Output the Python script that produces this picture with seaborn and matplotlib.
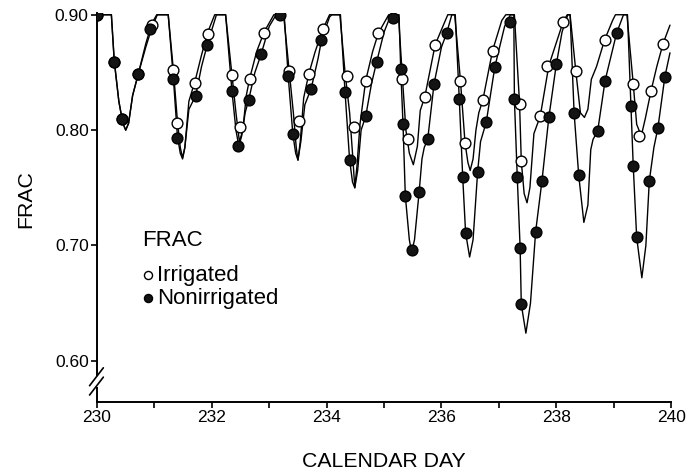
import matplotlib
matplotlib.use("Agg")
import matplotlib.pyplot as plt
import seaborn as sns
import pandas as pd

irr_day = [230.00, 230.30, 230.44, 230.72, 230.95, 231.33, 231.40, 231.71, 231.93,
           232.35, 232.49, 232.66, 232.91, 233.35, 233.51, 233.69, 233.93,
           234.35, 234.48, 234.68, 234.90, 235.32, 235.41, 235.71, 235.89,
           236.33, 236.41, 236.72, 236.89, 237.36, 237.39, 237.71, 237.84,
           238.12, 238.34, 238.84, 239.34, 239.44, 239.65, 239.86]
irr_val = [0.900, 0.859, 0.810, 0.849, 0.891, 0.852, 0.806, 0.841, 0.883,
           0.848, 0.803, 0.844, 0.884, 0.851, 0.808, 0.849, 0.888,
           0.847, 0.803, 0.843, 0.884, 0.844, 0.792, 0.829, 0.874,
           0.843, 0.789, 0.826, 0.869, 0.823, 0.773, 0.812, 0.856,
           0.894, 0.851, 0.878, 0.840, 0.795, 0.834, 0.875]

non_day = [230.00, 230.30, 230.44, 230.72, 230.93, 231.33, 231.40, 231.72, 231.92,
           232.35, 232.45, 232.64, 232.86, 233.19, 233.33, 233.41, 233.73, 233.91,
           234.32, 234.40, 234.68, 234.87, 235.15, 235.29, 235.33, 235.37, 235.48,
           235.61, 235.76, 235.87, 236.09, 236.31, 236.37, 236.42, 236.63, 236.78,
           236.93, 237.20, 237.27, 237.32, 237.37, 237.39, 237.64, 237.75, 237.87,
           238.00, 238.31, 238.39, 238.72, 238.85, 239.05, 239.30, 239.34, 239.40,
           239.62, 239.77, 239.89]
non_val = [0.900, 0.859, 0.810, 0.849, 0.888, 0.844, 0.793, 0.830, 0.874,
           0.834, 0.786, 0.826, 0.866, 0.900, 0.847, 0.797, 0.836, 0.878,
           0.833, 0.774, 0.812, 0.859, 0.897, 0.853, 0.805, 0.743, 0.696,
           0.746, 0.792, 0.840, 0.884, 0.827, 0.759, 0.711, 0.764, 0.807,
           0.855, 0.894, 0.827, 0.759, 0.698, 0.649, 0.712, 0.756, 0.811,
           0.857, 0.815, 0.761, 0.799, 0.843, 0.884, 0.821, 0.769, 0.707,
           0.756, 0.802, 0.846]

# ---- model curves (vertices) ----
irr_curve_day = [230.00, 230.25, 230.30, 230.38, 230.45, 230.50, 230.55, 230.62, 230.72, 230.85, 230.95,
                 231.04, 231.24, 231.33, 231.40, 231.45, 231.49, 231.53, 231.60, 231.71, 231.82, 231.93,
                 232.05, 232.24, 232.35, 232.42, 232.48, 232.54, 232.60, 232.66, 232.78, 232.91,
                 233.08, 233.25, 233.35, 233.42, 233.47, 233.50, 233.54, 233.60, 233.69, 233.80, 233.93,
                 234.05, 234.23, 234.32, 234.40, 234.45, 234.49, 234.53, 234.58, 234.68, 234.80, 234.90,
                 235.08, 235.25, 235.32, 235.38, 235.44, 235.51, 235.58, 235.63, 235.71, 235.89, 236.05,
                 236.11, 236.23, 236.33, 236.41, 236.46, 236.50, 236.55, 236.60, 236.65, 236.72, 236.89, 237.05,
                 237.12, 237.27, 237.36, 237.39, 237.44, 237.49, 237.54, 237.61, 237.72, 237.87, 238.12,
                 238.19, 238.24, 238.34, 238.42, 238.49, 238.55, 238.61, 238.70, 238.84, 238.98,
                 239.03, 239.23, 239.34, 239.40, 239.48, 239.55, 239.65, 239.75, 239.86, 239.98]
irr_curve_val = [0.900, 0.900, 0.860, 0.825, 0.806, 0.800, 0.806, 0.830, 0.849, 0.875, 0.892,
                 0.900, 0.900, 0.852, 0.808, 0.785, 0.776, 0.785, 0.825, 0.843, 0.865, 0.885,
                 0.900, 0.900, 0.848, 0.815, 0.790, 0.800, 0.830, 0.845, 0.868, 0.885,
                 0.900, 0.900, 0.850, 0.815, 0.785, 0.774, 0.790, 0.828, 0.849, 0.868, 0.887,
                 0.900, 0.900, 0.850, 0.815, 0.780, 0.750, 0.770, 0.805, 0.843, 0.868, 0.884,
                 0.900, 0.900, 0.845, 0.800, 0.780, 0.770, 0.786, 0.817, 0.829, 0.874, 0.893,
                 0.900, 0.900, 0.843, 0.789, 0.772, 0.765, 0.775, 0.800, 0.815, 0.826, 0.869, 0.895,
                 0.900, 0.900, 0.823, 0.773, 0.745, 0.737, 0.750, 0.797, 0.812, 0.856, 0.894,
                 0.900, 0.900, 0.851, 0.815, 0.811, 0.818, 0.844, 0.855, 0.878, 0.895,
                 0.900, 0.900, 0.840, 0.805, 0.795, 0.810, 0.834, 0.855, 0.875, 0.891]

non_curve_day = [230.00, 230.25, 230.30, 230.38, 230.45, 230.50, 230.55, 230.62, 230.72, 230.85, 230.95,
                 231.05, 231.24, 231.33, 231.40, 231.45, 231.49, 231.53, 231.60, 231.72, 231.82, 231.92,
                 232.08, 232.24, 232.35, 232.42, 232.47, 232.52, 232.58, 232.64, 232.75, 232.86, 233.00,
                 233.12, 233.26, 233.33, 233.41, 233.46, 233.50, 233.55, 233.62, 233.73, 233.85, 233.91, 234.05,
                 234.09, 234.24, 234.32, 234.40, 234.45, 234.49, 234.54, 234.60, 234.68, 234.78, 234.87, 235.00,
                 235.12, 235.26, 235.29, 235.33, 235.37, 235.44, 235.48, 235.53, 235.61, 235.66, 235.70, 235.76,
                 235.87, 236.00, 236.09,
                 236.18, 236.24, 236.31, 236.37, 236.42, 236.49, 236.55, 236.63, 236.68, 236.78, 236.93, 237.10,
                 237.20, 237.26, 237.27, 237.32, 237.37, 237.39, 237.47, 237.55, 237.64, 237.75, 237.87, 238.00,
                 238.10, 238.20, 238.24, 238.31, 238.39, 238.48, 238.55, 238.60, 238.64, 238.72, 238.85, 239.05,
                 239.17, 239.24, 239.30, 239.34, 239.40, 239.49, 239.56, 239.62, 239.70, 239.77, 239.89, 239.98]
non_curve_val = [0.900, 0.900, 0.860, 0.825, 0.806, 0.800, 0.806, 0.830, 0.849, 0.872, 0.888,
                 0.900, 0.900, 0.845, 0.795, 0.780, 0.775, 0.785, 0.818, 0.830, 0.855, 0.874,
                 0.900, 0.900, 0.834, 0.800, 0.786, 0.795, 0.815, 0.826, 0.850, 0.866, 0.890,
                 0.900, 0.900, 0.847, 0.797, 0.780, 0.774, 0.790, 0.822, 0.836, 0.862, 0.878, 0.898,
                 0.900, 0.900, 0.833, 0.774, 0.755, 0.750, 0.765, 0.800, 0.812, 0.840, 0.859, 0.885,
                 0.900, 0.900, 0.853, 0.805, 0.743, 0.705, 0.694, 0.705, 0.746, 0.775, 0.785, 0.792,
                 0.840, 0.872, 0.884,
                 0.900, 0.900, 0.827, 0.759, 0.711, 0.690, 0.705, 0.764, 0.790, 0.807, 0.855, 0.890,
                 0.900, 0.900, 0.827, 0.759, 0.698, 0.649, 0.624, 0.650, 0.712, 0.756, 0.811, 0.857,
                 0.885, 0.900, 0.900, 0.815, 0.761, 0.720, 0.735, 0.783, 0.792, 0.799, 0.843, 0.884,
                 0.900, 0.900, 0.821, 0.769, 0.707, 0.672, 0.700, 0.756, 0.785, 0.802, 0.846, 0.867]

x_ticks = [230, 232, 234, 236, 238, 240]
y_ticks = [0.60, 0.70, 0.80, 0.90]
y_tick_labels = ["0.60", "0.70", "0.80", "0.90"]

sns.set_theme(style="ticks")
plt.rcParams["font.family"] = ["Liberation Sans", "DejaVu Sans"]

fig = plt.figure(figsize=(6.98, 4.73), dpi=100)
ax = fig.add_axes([0.139, 0.150, 0.8225, 0.8225])

pts_irr = pd.DataFrame({"day": irr_day, "frac": irr_val})
pts_non = pd.DataFrame({"day": non_day, "frac": non_val})
cur_irr = pd.DataFrame({"day": irr_curve_day, "frac": irr_curve_val})
cur_non = pd.DataFrame({"day": non_curve_day, "frac": non_curve_val})

sns.lineplot(data=cur_irr, x="day", y="frac", sort=False, estimator=None,
             color="black", lw=1.0, ax=ax, zorder=2)
sns.lineplot(data=cur_non, x="day", y="frac", sort=False, estimator=None,
             color="black", lw=1.0, ax=ax, zorder=2)
sns.scatterplot(data=pts_irr, x="day", y="frac", marker="o", s=60,
                facecolor="white", edgecolor="black", linewidth=1.0, ax=ax, zorder=3,
                label="Irrigated")
sns.scatterplot(data=pts_non, x="day", y="frac", marker="o", s=60,
                color="#141414", edgecolor="black", linewidth=1.0, ax=ax, zorder=4,
                label="Nonirrigated")

ax.set_xlim(230, 240)
ax.set_ylim(0.5643, 0.9015)
ax.set_xticks(x_ticks)
ax.set_xticks([231, 233, 235, 237, 239], minor=True)
ax.set_xticklabels([str(t) for t in x_ticks])
ax.set_yticks(y_ticks)
ax.set_yticklabels(y_tick_labels)
ax.tick_params(axis="both", which="major", labelsize=12.5, length=4, width=1.2,
               color="black", labelcolor="black", direction="out", pad=2)
ax.tick_params(axis="x", which="minor", length=4, width=1.2, color="black", direction="out")
for s in ["top", "right"]:
    ax.spines[s].set_visible(False)
for s in ["left", "bottom"]:
    ax.spines[s].set_linewidth(1.4)
    ax.spines[s].set_color("black")

ax.set_xlabel("CALENDAR DAY", fontsize=15.3, labelpad=19, color="black")
ax.set_ylabel("FRAC", fontsize=15.3, color="black")
ax.yaxis.set_label_coords(-0.107, 0.523)

# axis break marks on the y axis
ax.plot([0, 0], [0.043, 0.063], transform=ax.transAxes, color="white", lw=3,
        clip_on=False, zorder=5)
ax.plot([-0.013, 0.011], [0.018, 0.064], transform=ax.transAxes, color="black",
        lw=1.2, clip_on=False, zorder=6)
ax.plot([-0.013, 0.011], [0.042, 0.088], transform=ax.transAxes, color="black",
        lw=1.2, clip_on=False, zorder=6)

leg = ax.legend(loc="upper left", bbox_to_anchor=(0.0635, 0.465), frameon=False,
                title="FRAC", fontsize=16, title_fontsize=16, alignment="left",
                handletextpad=0.15, handlelength=0.5, borderaxespad=0, labelspacing=0.08,
                markerscale=0.75)
leg.get_title().set_color("black")
for t in leg.get_texts():
    t.set_color("black")
leg._legend_box.sep = 10

fig.savefig("out.png", dpi=100)
